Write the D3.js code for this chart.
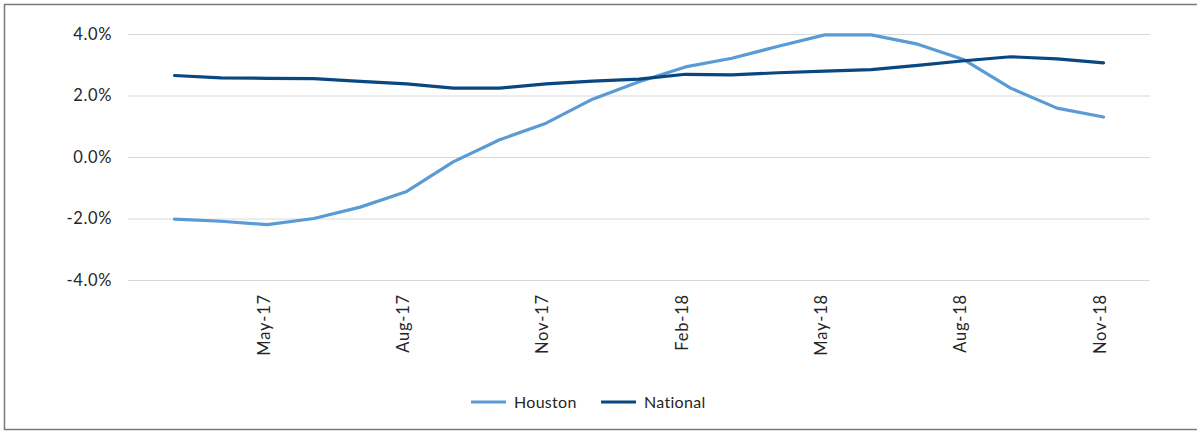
<!DOCTYPE html>
<html>
<head>
<meta charset="utf-8">
<script src="https://cdnjs.cloudflare.com/ajax/libs/d3/7.8.5/d3.min.js"></script>
<style>
  body { margin: 0; background: #fff; }
  text { font-family: Lato, "Noto Sans", sans-serif; fill: #262626; }
</style>
</head>
<body>
<div id="chart"></div>
<script>
// monthly data, Mar-17 .. Nov-18
var months = ["Mar-17", "Apr-17", "May-17", "Jun-17", "Jul-17", "Aug-17", "Sep-17", "Oct-17",
  "Nov-17", "Dec-17", "Jan-18", "Feb-18", "Mar-18", "Apr-18", "May-18", "Jun-18", "Jul-18",
  "Aug-18", "Sep-18", "Oct-18", "Nov-18"];
var houston = [-2.02, -2.09, -2.20, -2.00, -1.63, -1.12, -0.16, 0.56, 1.10, 1.88, 2.45,
  2.93, 3.21, 3.60, 3.97, 3.97, 3.67, 3.16, 2.24, 1.59, 1.30];
var national = [2.65, 2.57, 2.56, 2.55, 2.46, 2.38, 2.24, 2.24, 2.38, 2.47, 2.53,
  2.69, 2.67, 2.74, 2.79, 2.84, 2.98, 3.13, 3.26, 3.19, 3.06];
var tickLabels = ["May-17", "Aug-17", "Nov-17", "Feb-18", "May-18", "Aug-18", "Nov-18"];
var yTicks = [-4, -2, 0, 2, 4];

var colors = [["Houston", "#5b9bd5"], ["National", "#08477f"]];

var W = 1197, H = 431;
var margin = {top: 34, left: 128, right: 47, bottom: 151};
var width = W - margin.left - margin.right,
    height = H - margin.top - margin.bottom;

var svg = d3.select("#chart").append("svg")
  .attr("width", W)
  .attr("height", H);

// outer frame
svg.append("rect")
  .attr("x", 4.5).attr("y", 4.5)
  .attr("width", W + 10).attr("height", 425)
  .attr("fill", "none")
  .attr("stroke", "#7a7a7a")
  .attr("stroke-width", 1.5);

var g = svg.append("g")
  .attr("transform", "translate(" + margin.left + "," + margin.top + ")");

// category positions: one empty slot before the first month
var x = d3.scaleLinear().domain([-1, months.length]).range([0, width]);
var y = d3.scaleLinear().domain([-4, 4]).range([height, 0]);

var yAxis = d3.axisLeft(y).tickValues(yTicks).tickSize(-width)
  .tickFormat(function(d) { return d.toFixed(1) + "%"; });

g.append("g")
  .attr("class", "y axis")
  .call(yAxis)
  .call(function(s) {
    s.select(".domain").remove();
    s.selectAll(".tick line").attr("stroke", "#d9d9d9").attr("stroke-width", 1);
    s.selectAll(".tick text").attr("x", -16).attr("font-size", 16.5)
      .style("letter-spacing", "0.6px");
  });

var xAxis = d3.axisBottom(x)
  .tickValues(tickLabels.map(function(t) { return months.indexOf(t); }))
  .tickSize(0)
  .tickFormat(function(i) { return months[i]; });

g.append("g")
  .attr("class", "x axis")
  .attr("transform", "translate(0," + height + ")")
  .call(xAxis)
  .call(function(s) {
    s.select(".domain").remove();
    s.selectAll(".tick text")
      .attr("transform", "rotate(-90)")
      .attr("x", -14)
      .attr("y", -4)
      .attr("dy", "0.35em")
      .attr("font-size", 16.5)
      .style("letter-spacing", "0.8px")
      .style("text-anchor", "end");
  });

var line = d3.line()
  .x(function(d, i) { return x(i); })
  .y(function(d) { return y(d); });

[houston, national].forEach(function(series, k) {
  g.append("path")
    .datum(series)
    .attr("fill", "none")
    .attr("stroke", colors[k][1])
    .attr("stroke-width", 3.2)
    .attr("stroke-linejoin", "round")
    .attr("stroke-linecap", "round")
    .attr("d", line);
});

// legend
var legend = svg.append("g")
  .selectAll("g")
  .data(colors)
  .enter()
  .append("g")
  .attr("transform", function(d, i) {
    return "translate(" + (471 + i * 130) + ",402)";
  });

legend.append("line")
  .attr("x1", 0).attr("x2", 35)
  .attr("stroke", function(d) { return d[1]; })
  .attr("stroke-width", 3.2);

legend.append("text")
  .attr("x", 43)
  .attr("dy", "0.35em")
  .attr("font-size", 16)
  .style("letter-spacing", "0.3px")
  .text(function(d) { return d[0]; });
</script>
</body>
</html>
